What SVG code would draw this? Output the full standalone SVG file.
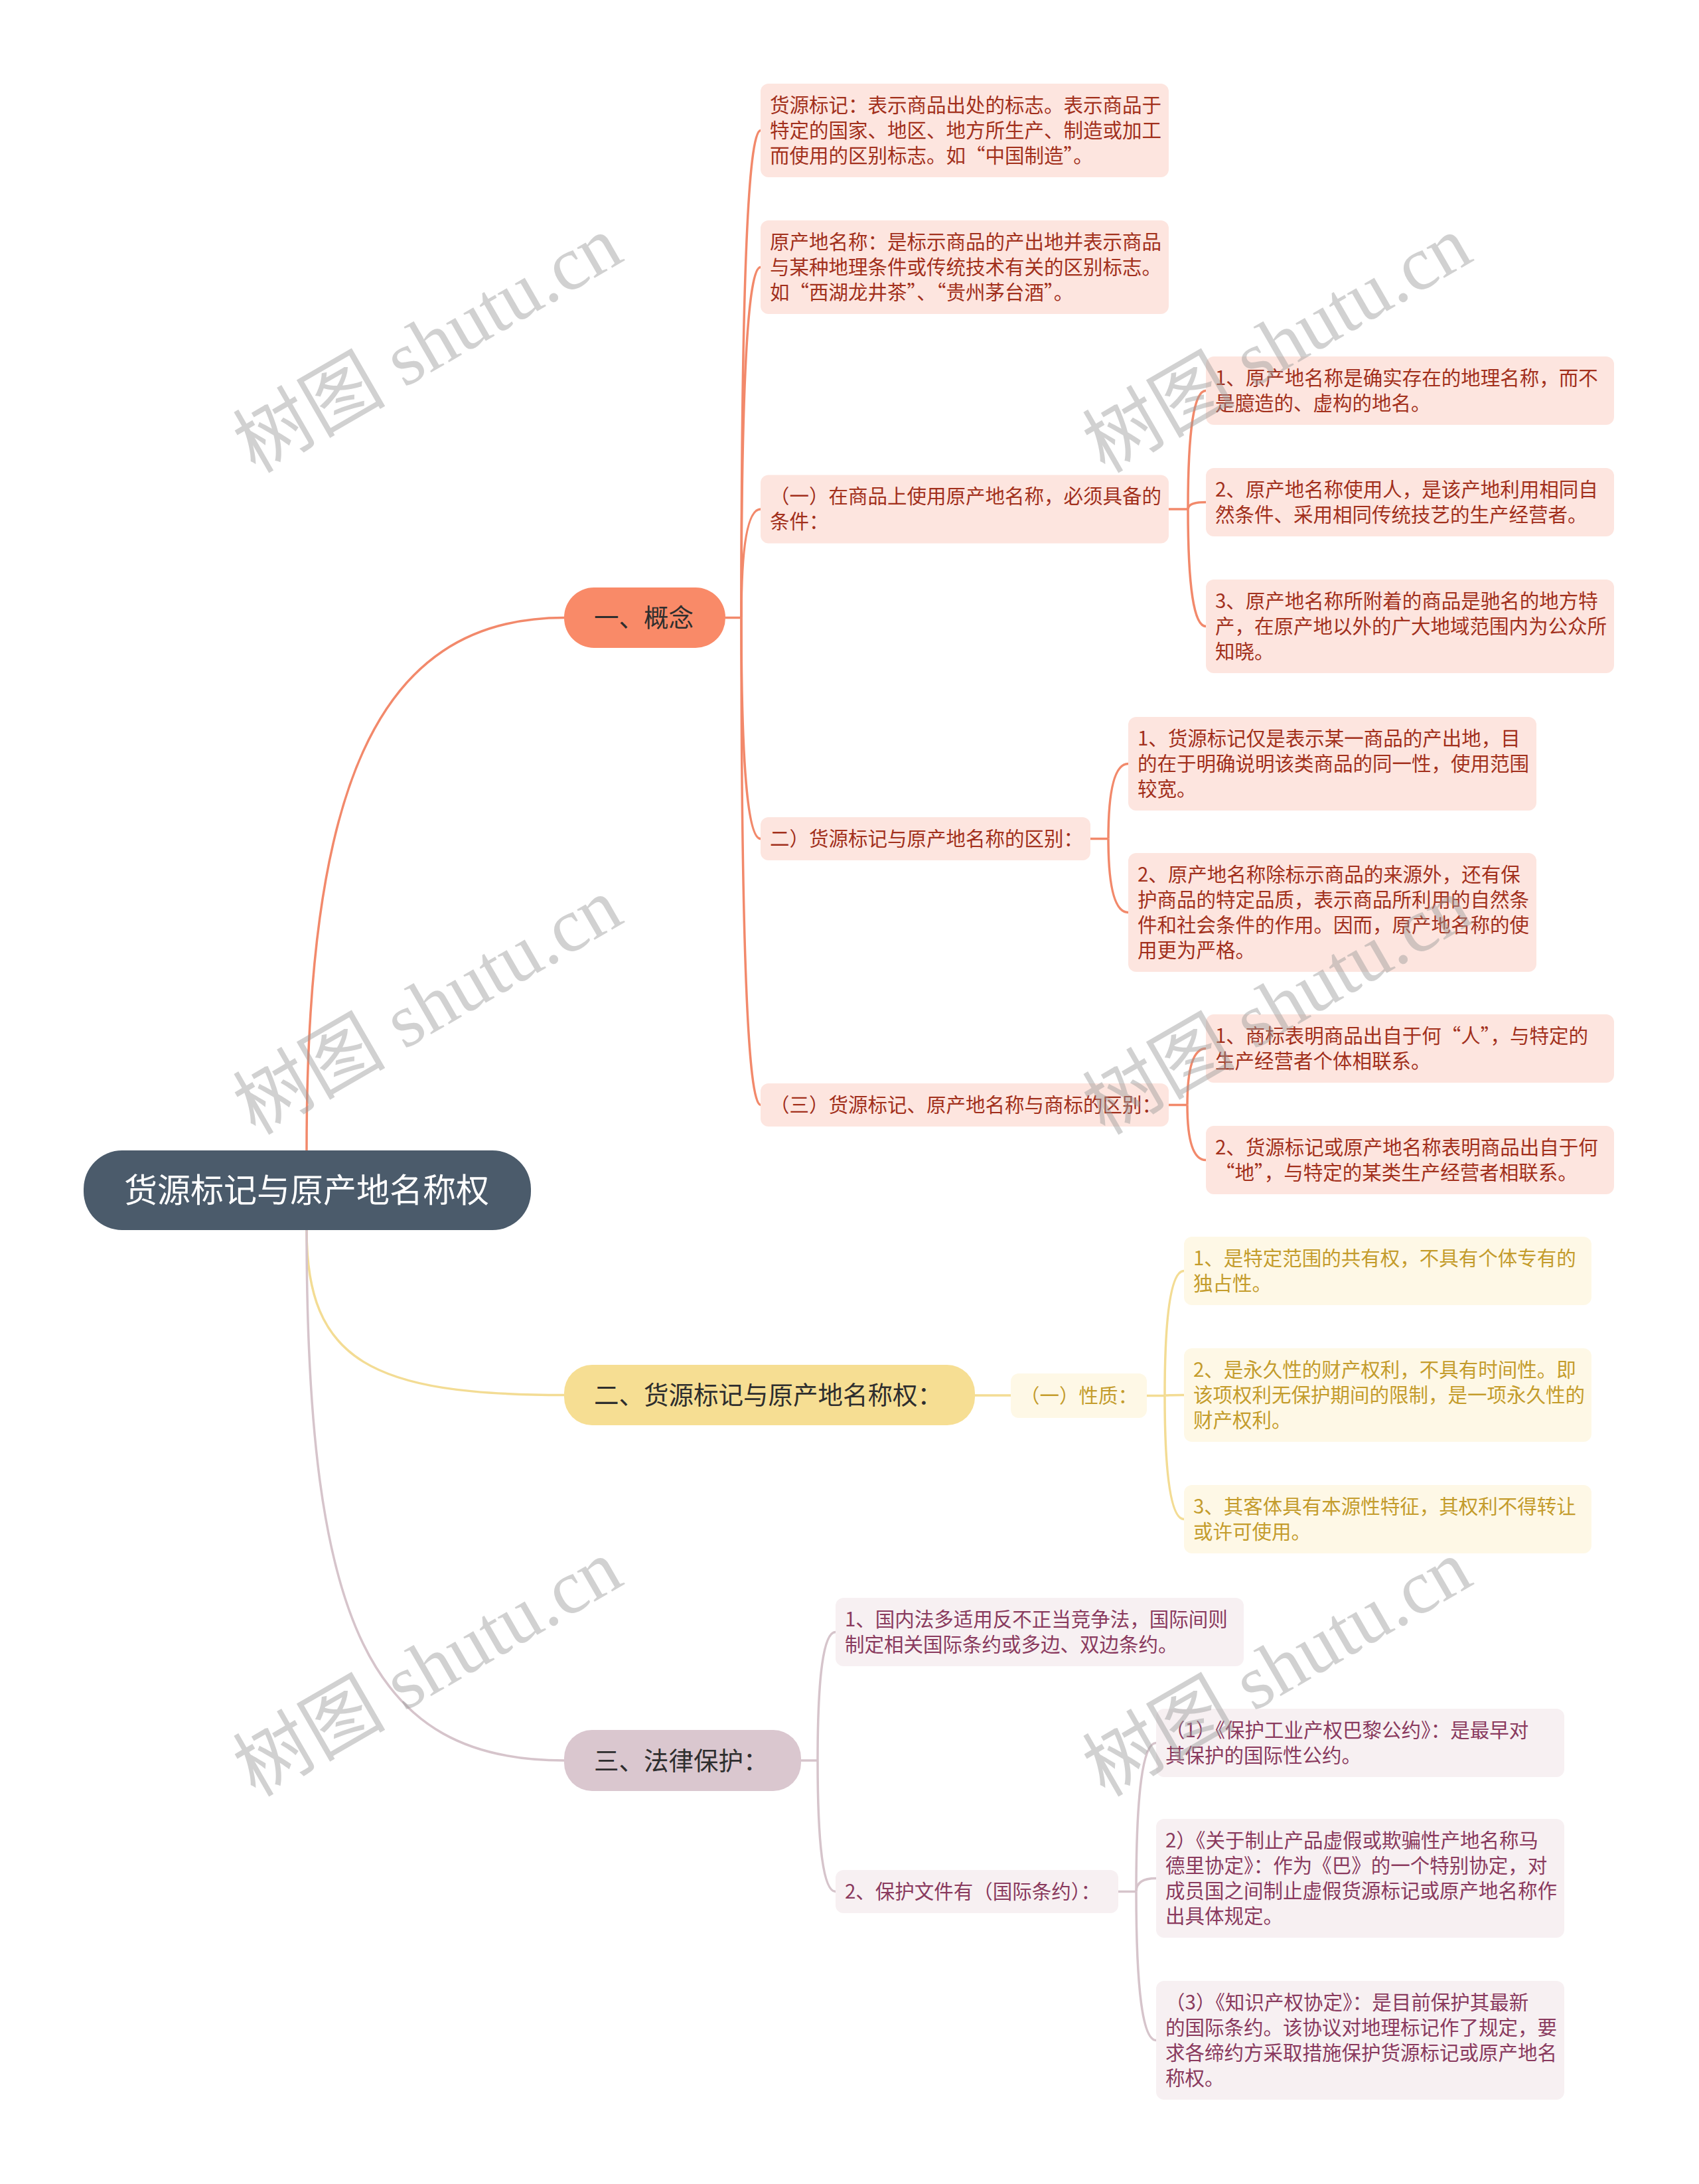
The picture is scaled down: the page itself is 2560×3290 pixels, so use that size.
<svg xmlns="http://www.w3.org/2000/svg" width="2560" height="3290" viewBox="0 0 2560 3290">
<style>
text{font-family:"Noto Sans CJK SC","Noto Sans",sans-serif}
.s{font-size:29.5px}
.b{font-size:37.5px;fill:#2e2e2e}
.n1{fill:#FDE5DF}.t1{fill:#A2301C}
.n2{fill:#FEF8E6}.t2{fill:#C49C2C}
.n3{fill:#F7F0F2}.t3{fill:#8A3A5E}
.e1{fill:none;stroke:#F2896B;stroke-width:3.5}
.e2{fill:none;stroke:#F3DC94;stroke-width:3.5}
.e3{fill:none;stroke:#D6C4CB;stroke-width:3.5}
.wm{font-family:"Liberation Serif","Noto Sans CJK SC",serif;font-size:115px;fill:#9a9a9a;opacity:0.45}
</style>
<rect width="2560" height="3290" fill="#ffffff"/>
<g id="connectors">
<path class="e1" d="M462,1733 C462,1200 560,930.5 850,930.5" stroke-width="4"/>
<path class="e2" d="M462,1853 C462,2050 560,2101.5 850,2101.5" stroke-width="4"/>
<path class="e3" d="M462,1853 C462,2450 560,2652 850,2652" stroke-width="4"/>
<path class="e1" d="M1093,930.5 L1117,930.5"/>
<path class="e1" d="M1117,930.5 Q1117,196.5 1146,196.5"/>
<path class="e1" d="M1117,930.5 Q1117,402.5 1146,402.5"/>
<path class="e1" d="M1117,930.5 Q1117,767 1146,767"/>
<path class="e1" d="M1117,930.5 Q1117,1263.5 1146,1263.5"/>
<path class="e1" d="M1117,930.5 Q1117,1664.5 1146,1664.5"/>
<path class="e1" d="M1761,767 L1790,767"/>
<path class="e1" d="M1790,767 Q1790,588.5 1817,588.5"/>
<path class="e1" d="M1790,767 Q1790,756.5 1817,756.5"/>
<path class="e1" d="M1790,767 Q1790,943.5 1817,943.5"/>
<path class="e1" d="M1643,1263.5 L1670,1263.5"/>
<path class="e1" d="M1670,1263.5 Q1670,1150.5 1700,1150.5"/>
<path class="e1" d="M1670,1263.5 Q1670,1374.5 1700,1374.5"/>
<path class="e1" d="M1761,1664.5 L1789,1664.5"/>
<path class="e1" d="M1789,1664.5 Q1789,1579.5 1817,1579.5"/>
<path class="e1" d="M1789,1664.5 Q1789,1747.5 1817,1747.5"/>
<path class="e2" d="M1469,2102 L1523,2102"/>
<path class="e2" d="M1728,2102.5 L1755,2102.5"/>
<path class="e2" d="M1755,2102.5 Q1755,1914.5 1784,1914.5"/>
<path class="e2" d="M1755,2102.5 Q1755,2101.5 1784,2101.5"/>
<path class="e2" d="M1755,2102.5 Q1755,2288.5 1784,2288.5"/>
<path class="e3" d="M1207,2652 L1232,2652"/>
<path class="e3" d="M1232,2652 Q1232,2458.5 1259,2458.5"/>
<path class="e3" d="M1232,2652 Q1232,2849.5 1259,2849.5"/>
<path class="e3" d="M1685,2849.5 L1712,2849.5"/>
<path class="e3" d="M1712,2849.5 Q1712,2625.5 1742,2625.5"/>
<path class="e3" d="M1712,2849.5 Q1712,2829.5 1742,2829.5"/>
<path class="e3" d="M1712,2849.5 Q1712,3073.5 1742,3073.5"/>
</g>
<g id="root">
<rect x="126" y="1733" width="674" height="120" rx="58" fill="#4B5B6B"/>
<text x="462" y="1811" font-size="50" fill="#ffffff" text-anchor="middle">货源标记与原产地名称权</text>
</g>
<g id="b1">
<rect x="850" y="885" width="243" height="91" rx="45" fill="#F98A68"/>
<text class="b" x="895" y="944">一、概念</text>
</g>
<g id="b2">
<rect x="850" y="2056" width="619" height="91" rx="42" fill="#F6DE93"/>
<text class="b" x="895" y="2115">二、货源标记与原产地名称权：</text>
</g>
<g id="b3">
<rect x="850" y="2606" width="357" height="92" rx="42" fill="#DAC7CF"/>
<text class="b" x="895" y="2665.5">三、法律保护：</text>
</g>
<g id="a1">
<rect class="n1" x="1146" y="126" width="615" height="141" rx="12"/>
<text class="s t1"><tspan x="1160" y="168.5">货源标记：表示商品出处的标志。表示商品于</tspan><tspan x="1160" y="206.5">特定的国家、地区、地方所生产、制造或加工</tspan><tspan x="1160" y="244.5">而使用的区别标志。如“中国制造”。</tspan></text>
</g>
<g id="a2">
<rect class="n1" x="1146" y="332" width="615" height="141" rx="12"/>
<text class="s t1"><tspan x="1160" y="374.5">原产地名称：是标示商品的产出地并表示商品</tspan><tspan x="1160" y="412.5">与某种地理条件或传统技术有关的区别标志。</tspan><tspan x="1160" y="450.5">如“西湖龙井茶”、“贵州茅台酒”。</tspan></text>
</g>
<g id="a3">
<rect class="n1" x="1146" y="715.5" width="615" height="103" rx="12"/>
<text class="s t1"><tspan x="1160" y="758">（一）在商品上使用原产地名称，必须具备的</tspan><tspan x="1160" y="796">条件：</tspan></text>
</g>
<g id="a3a">
<rect class="n1" x="1817" y="537" width="615" height="103" rx="12"/>
<text class="s t1"><tspan x="1831" y="579.5">1、原产地名称是确实存在的地理名称，而不</tspan><tspan x="1831" y="617.5">是臆造的、虚构的地名。</tspan></text>
</g>
<g id="a3b">
<rect class="n1" x="1817" y="705" width="615" height="103" rx="12"/>
<text class="s t1"><tspan x="1831" y="747.5">2、原产地名称使用人，是该产地利用相同自</tspan><tspan x="1831" y="785.5">然条件、采用相同传统技艺的生产经营者。</tspan></text>
</g>
<g id="a3c">
<rect class="n1" x="1817" y="873" width="615" height="141" rx="12"/>
<text class="s t1"><tspan x="1831" y="915.5">3、原产地名称所附着的商品是驰名的地方特</tspan><tspan x="1831" y="953.5">产，在原产地以外的广大地域范围内为公众所</tspan><tspan x="1831" y="991.5">知晓。</tspan></text>
</g>
<g id="a4">
<rect class="n1" x="1146" y="1231" width="497" height="65" rx="12"/>
<text class="s t1" x="1160" y="1273.5">二）货源标记与原产地名称的区别：</text>
</g>
<g id="a4a">
<rect class="n1" x="1700" y="1080" width="615" height="141" rx="12"/>
<text class="s t1"><tspan x="1714" y="1122.5">1、货源标记仅是表示某一商品的产出地，目</tspan><tspan x="1714" y="1160.5">的在于明确说明该类商品的同一性，使用范围</tspan><tspan x="1714" y="1198.5">较宽。</tspan></text>
</g>
<g id="a4b">
<rect class="n1" x="1700" y="1285" width="615" height="179" rx="12"/>
<text class="s t1"><tspan x="1714" y="1327.5">2、原产地名称除标示商品的来源外，还有保</tspan><tspan x="1714" y="1365.5">护商品的特定品质，表示商品所利用的自然条</tspan><tspan x="1714" y="1403.5">件和社会条件的作用。因而，原产地名称的使</tspan><tspan x="1714" y="1441.5">用更为严格。</tspan></text>
</g>
<g id="a5">
<rect class="n1" x="1146" y="1632" width="615" height="65" rx="12"/>
<text class="s t1" x="1160" y="1674.5">（三）货源标记、原产地名称与商标的区别：</text>
</g>
<g id="a5a">
<rect class="n1" x="1817" y="1528" width="615" height="103" rx="12"/>
<text class="s t1"><tspan x="1831" y="1570.5">1、商标表明商品出自于何“人”，与特定的</tspan><tspan x="1831" y="1608.5">生产经营者个体相联系。</tspan></text>
</g>
<g id="a5b">
<rect class="n1" x="1817" y="1696" width="615" height="103" rx="12"/>
<text class="s t1"><tspan x="1831" y="1738.5">2、货源标记或原产地名称表明商品出自于何</tspan><tspan x="1831" y="1776.5">“地”，与特定的某类生产经营者相联系。</tspan></text>
</g>
<g id="bq">
<rect class="n2" x="1523" y="2069" width="205" height="67" rx="12"/>
<text class="s t2" x="1537" y="2112.5">（一）性质：</text>
</g>
<g id="bq1">
<rect class="n2" x="1784" y="1863" width="614" height="103" rx="12"/>
<text class="s t2"><tspan x="1798" y="1905.5">1、是特定范围的共有权，不具有个体专有的</tspan><tspan x="1798" y="1943.5">独占性。</tspan></text>
</g>
<g id="bq2">
<rect class="n2" x="1784" y="2031" width="614" height="141" rx="12"/>
<text class="s t2"><tspan x="1798" y="2073.5">2、是永久性的财产权利，不具有时间性。即</tspan><tspan x="1798" y="2111.5">该项权利无保护期间的限制，是一项永久性的</tspan><tspan x="1798" y="2149.5">财产权利。</tspan></text>
</g>
<g id="bq3">
<rect class="n2" x="1784" y="2237" width="614" height="103" rx="12"/>
<text class="s t2"><tspan x="1798" y="2279.5">3、其客体具有本源性特征，其权利不得转让</tspan><tspan x="1798" y="2317.5">或许可使用。</tspan></text>
</g>
<g id="c1">
<rect class="n3" x="1259" y="2407" width="615" height="103" rx="12"/>
<text class="s t3"><tspan x="1273" y="2449.5">1、国内法多适用反不正当竞争法，国际间则</tspan><tspan x="1273" y="2487.5">制定相关国际条约或多边、双边条约。</tspan></text>
</g>
<g id="c2">
<rect class="n3" x="1259" y="2817" width="426" height="65" rx="12"/>
<text class="s t3" x="1273" y="2859.5">2、保护文件有（国际条约）：</text>
</g>
<g id="c2a">
<rect class="n3" x="1742" y="2574" width="615" height="103" rx="12"/>
<text class="s t3"><tspan x="1756" y="2616.5">（1）《保护工业产权巴黎公约》：是最早对</tspan><tspan x="1756" y="2654.5">其保护的国际性公约。</tspan></text>
</g>
<g id="c2b">
<rect class="n3" x="1742" y="2740" width="615" height="179" rx="12"/>
<text class="s t3"><tspan x="1756" y="2782.5">2）《关于制止产品虚假或欺骗性产地名称马</tspan><tspan x="1756" y="2820.5">德里协定》：作为《巴》的一个特别协定，对</tspan><tspan x="1756" y="2858.5">成员国之间制止虚假货源标记或原产地名称作</tspan><tspan x="1756" y="2896.5">出具体规定。</tspan></text>
</g>
<g id="c2c">
<rect class="n3" x="1742" y="2984" width="615" height="179" rx="12"/>
<text class="s t3"><tspan x="1756" y="3026.5">（3）《知识产权协定》：是目前保护其最新</tspan><tspan x="1756" y="3064.5">的国际条约。该协议对地理标记作了规定，要</tspan><tspan x="1756" y="3102.5">求各缔约方采取措施保护货源标记或原产地名</tspan><tspan x="1756" y="3140.5">称权。</tspan></text>
</g>
<g id="watermarks">
<text class="wm" x="644" y="558" text-anchor="middle" transform="rotate(-30 644 518)">树图 shutu.cn</text>
<text class="wm" x="1924" y="558" text-anchor="middle" transform="rotate(-30 1924 518)">树图 shutu.cn</text>
<text class="wm" x="644" y="1555" text-anchor="middle" transform="rotate(-30 644 1515)">树图 shutu.cn</text>
<text class="wm" x="1924" y="1555" text-anchor="middle" transform="rotate(-30 1924 1515)">树图 shutu.cn</text>
<text class="wm" x="644" y="2552" text-anchor="middle" transform="rotate(-30 644 2512)">树图 shutu.cn</text>
<text class="wm" x="1924" y="2552" text-anchor="middle" transform="rotate(-30 1924 2512)">树图 shutu.cn</text>
</g>
</svg>
